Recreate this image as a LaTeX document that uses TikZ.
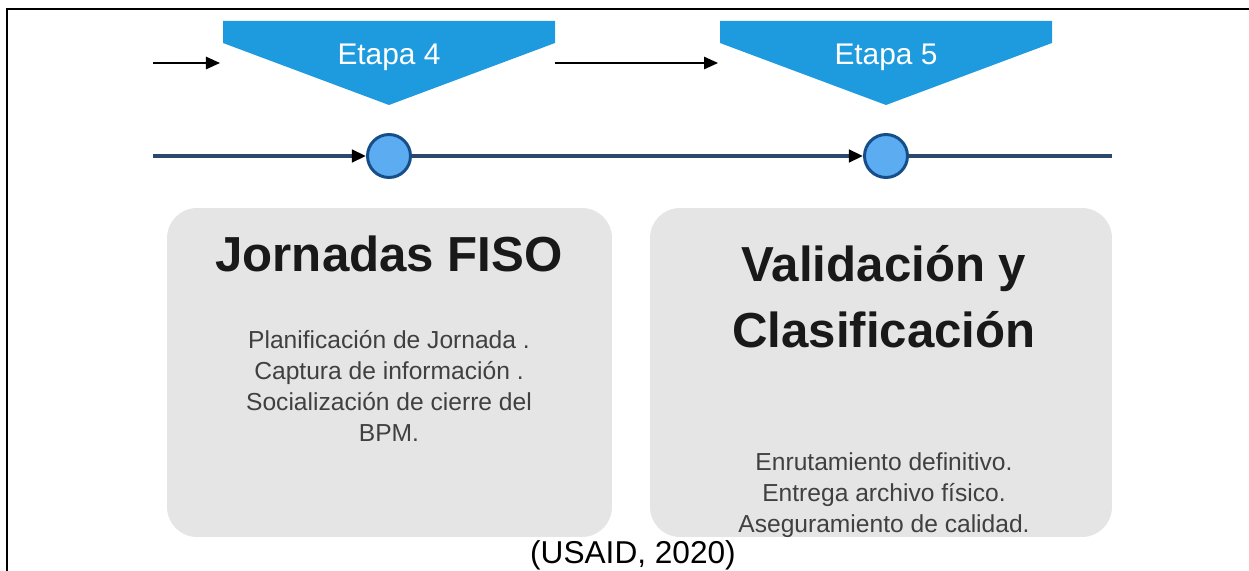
\documentclass[tikz,border=0pt]{standalone}
\usepackage{fontspec}
\setmainfont{Liberation Sans}
\usetikzlibrary{arrows.meta, positioning}
\definecolor{etapablue}{RGB}{29,155,222}
\definecolor{hitofill}{RGB}{92,172,242}
\definecolor{hitodraw}{RGB}{22,78,138}
\definecolor{lineablue}{RGB}{44,72,108}
\definecolor{cajagray}{RGB}{229,229,229}
\definecolor{cuerpogray}{RGB}{64,64,64}

\begin{document}
\begin{tikzpicture}[x=0.02cm, y=-0.02cm, >={Triangle[length=8pt,width=7pt,color=black]},
      etapa/.style={fill=etapablue},
      etapatext/.style={text=white, font=\fontsize{17}{20}\selectfont, anchor=base, inner sep=0pt},
      hito/.style={circle, draw=hitodraw, fill=hitofill, line width=1.7pt, minimum size=0.86cm, inner sep=0pt},
      caja/.style={fill=cajagray, rounded corners=17pt, minimum height=6.58cm, inner sep=0pt},
      titulo/.style={font=\bfseries\fontsize{28}{37.4}\selectfont, text=black!90, align=center, inner sep=0pt},
      cuerpo/.style={font=\fontsize{14}{17.6}\selectfont, text=cuerpogray, align=center, inner sep=0pt},
      linea/.style={draw=lineablue, line width=2.2pt},
      flecha/.style={->, line width=1.1pt}]
      \useasboundingbox (0,0) rectangle (1249,571);
      % marco de la tabla
      \draw[line width=1.2pt] (7,571) -- (7,9) -- (1249,9);
      % etapas
      \foreach \n/\cx in {4/389, 5/886} {
        \fill[etapa] (\cx-166,21) -- (\cx+166,21) -- (\cx+166,43) -- (\cx,105) -- (\cx-166,43) -- cycle;
        \node (etapa\n) [etapatext] at (\cx,65) {Etapa \n};
        \coordinate (e\n-izq) at (\cx-166,63);
        \coordinate (e\n-der) at (\cx+166,63);
      }
      \coordinate (sup-inicio) at (153,63);
      \draw[flecha, shorten >=1.7pt] (sup-inicio) -- (e4-izq);
      \draw[flecha, shorten >=1.1pt] (e4-der) -- (e5-izq);
      % linea de tiempo
      \coordinate (inicio) at (153,156);
      \coordinate (fin) at (1112,156);
      \node (hito4) [hito] at (389,156) {};
      \node (hito5) [hito] at (886,156) {};
      \draw[linea, ->] (inicio) -- (hito4);
      \draw[linea, ->] (hito4) -- (hito5);
      \draw[linea] (hito5) -- (fin);
      % cajas
      \node (jornadas) [caja, minimum width=8.9cm] at (389.5,372.5) {};
      \node (validacion) [caja, minimum width=9.24cm] at (881,372.5) {};
      \node (jornadas-tit) [titulo, anchor=base] at (389,272) {Jornadas FISO};
      \node (jornadas-txt) [cuerpo, anchor=north] at (389,330) {Planificación de Jornada .\\ Captura de información .\\ Socialización de cierre del\\ BPM.};
      \node (validacion-tit) [titulo, anchor=north] at (884,245) {Validación y\\ Clasificación};
      \node (validacion-txt) [cuerpo, anchor=north] at (884,452) {Enrutamiento definitivo.\\ Entrega archivo físico.\\ Aseguramiento de calidad.};
      \node (fuente) [anchor=base, inner sep=0pt, font=\fontsize{18}{20}\selectfont] at (633,563) {(USAID, 2020)};
    \end{tikzpicture}
\end{document}
